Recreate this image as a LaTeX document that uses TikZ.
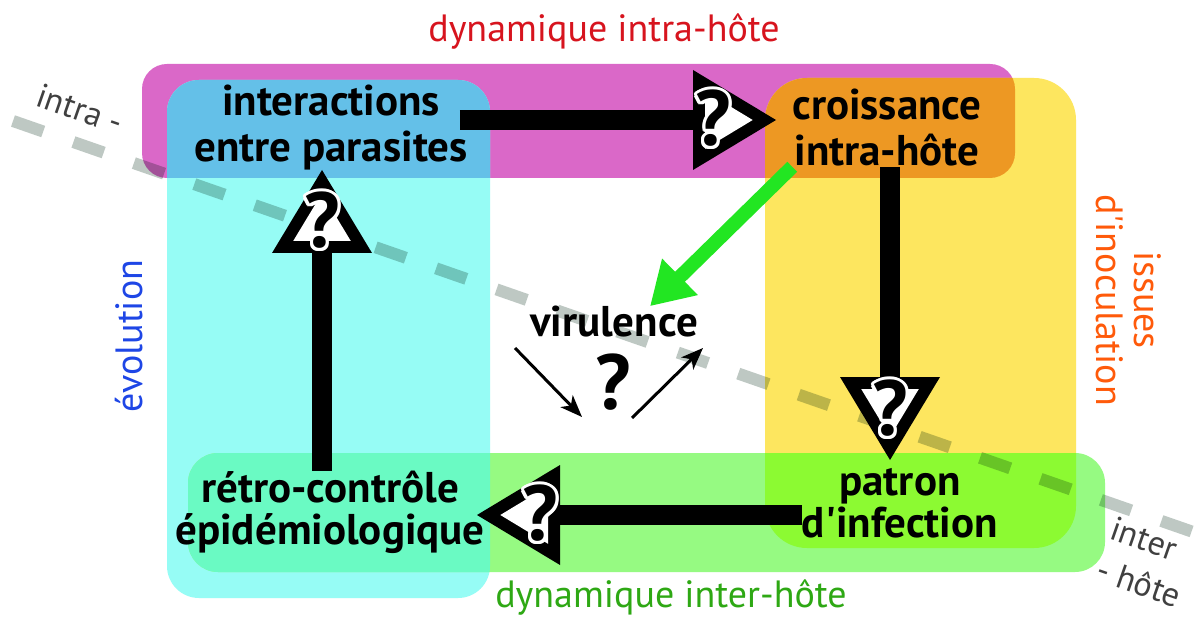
\documentclass[tikz,border=0pt]{standalone}
\usepackage{fontspec}
\setmainfont{PT Sans}
\usepackage{contour}
\usetikzlibrary{arrows.meta}

\definecolor{magband}{HTML}{DA68C8}
\definecolor{yelband}{HTML}{FDE65F}
\definecolor{cyaband}{HTML}{96FCF5}
\definecolor{grnband}{HTML}{96FA82}
\definecolor{bluover}{HTML}{64C0E8}
\definecolor{orover}{HTML}{ED9823}
\definecolor{tealover}{HTML}{6AFAC3}
\definecolor{limover}{HTML}{8CFA32}
\definecolor{dashgray}{HTML}{BEC8C3}
\definecolor{arrgreen}{HTML}{22E622}
\definecolor{intracol}{HTML}{D7141E}
\definecolor{intercol}{HTML}{2EA814}
\definecolor{evocol}{HTML}{1E46E6}
\definecolor{inoccol}{HTML}{FF5A0A}
\definecolor{sidegray}{HTML}{404040}

\contourlength{3pt}

% black arrow head with a white inside, pointing along +x
\tikzset{
  qhead/.pic={
    \fill[black] (0,-50) -- (83,0) -- (0,50) -- cycle;
    \fill[white] (12,-28.8) -- (59.7,0) -- (12,28.8) -- cycle;
  }
}

\begin{document}
\begin{tikzpicture}[x=1pt,y=-1pt,
  box/.style={font=\fontsize{43}{46}\selectfont\bfseries, align=center, inner sep=0pt},
  lowbox/.style={box, font=\fontsize{43}{42}\selectfont\bfseries},
  region/.style={font=\fontsize{38}{38}\selectfont, align=center, inner sep=0pt},
  side/.style={font=\fontsize{34}{43}\selectfont, text=sidegray, rotate=-19.2, inner sep=0pt},
  shaft/.style={line width=20pt},
  qmark/.style={font=\fontsize{78}{78}\selectfont\bfseries, inner sep=0pt},
  sep/.style={dashgray, line width=12pt, dash pattern=on 32pt off 32pt},
  grn/.style={arrgreen, line width=14pt, -{Triangle[length=42pt,width=48pt]}},
  thin/.style={line width=3pt, -{Stealth[length=22pt,width=17pt,inset=6pt]}}
]
\useasboundingbox (0,0) rectangle (1201,617);
\fill[white] (0,0) rectangle (1201,617);

% the four bands
\fill[magband, rounded corners=25pt] (142,64) rectangle (1015,178);
\fill[yelband, rounded corners=42pt] (765,78) rectangle (1076,548);
\fill[cyaband, rounded corners=32pt] (167,80) rectangle (490,598);
\fill[grnband, rounded corners=30pt] (188,453) rectangle (1105,572);

% where two bands meet
\begin{scope}
  \clip[rounded corners=25pt] (142,64) rectangle (1015,178);
  \fill[bluover, rounded corners=32pt] (167,80) rectangle (490,598);
  \fill[orover, rounded corners=42pt] (765,78) rectangle (1076,548);
\end{scope}
\begin{scope}
  \clip[rounded corners=30pt] (188,453) rectangle (1105,572);
  \fill[tealover, rounded corners=32pt] (167,80) rectangle (490,598);
  \fill[limover, rounded corners=42pt] (765,78) rectangle (1076,548);
\end{scope}

% intra / inter separation
\coordinate (d1) at (13,121);
\coordinate (d2) at (1196,533);
\begin{scope}[blend mode=multiply]
  \draw[sep] (d1) -- (d2);
\end{scope}
\node[side] (intra) at (80,109) {intra -};
\node[side, align=left] (interh) at (1146,562) {inter\\- hôte};

% boxes
\node[box] (inter) at (331,128) {interactions\\entre parasites};
\node[box] (croiss) at (887,128) {croissance\\intra-hôte};
\node[lowbox] (patron) at (900,503) {patron\\d{\textquotesingle}infection};
\node[lowbox] (retro) at (330,512) {rétro-contrôle\\épidémiologique};
\node[box] (vir) at (614,322) {virulence};
\node[qmark] (vq) at (613,382) {?};

% region names
\node[region, text=intracol] (dintra) at (604,31) {dynamique intra-hôte};
\node[region, text=intercol] (dinter) at (671,597) {dynamique inter-hôte};
\node[region, text=evocol, rotate=90] (evo) at (129,336) {évolution};
\node[region, text=inoccol, rotate=-90] (inoc) at (1129,300) {issues\\d{\textquotesingle}inoculation};

% the cycle
\coordinate (h1) at (693,120);
\coordinate (h2) at (890,377);
\coordinate (h3) at (560,515);
\coordinate (h4) at (322,253);
\draw[shaft] ([xshift=-8pt,yshift=8pt]inter.east) -- (h1);
\draw[shaft] (croiss.south -| h2) -- (h2);
\draw[shaft] (patron.west |- h3) -- (h3);
\draw[shaft] (retro.north -| h4) -- (h4);
\pic at (h1) {qhead};
\pic[rotate=-90] at (h2) {qhead};
\pic[rotate=180] at (h3) {qhead};
\pic[rotate=90] at (h4) {qhead};
\node[qmark] (q1) at ([xshift=20pt]h1) {\contour{white}{?}};
\node[qmark] (q2) at ([yshift=-33pt]h2) {\contour{white}{?}};
\node[qmark] (q3) at ([xshift=-20pt]h3) {\contour{white}{?}};
\node[qmark] (q4) at ([yshift=31pt]h4) {\contour{white}{?}};

% virulence
\draw[grn] (croiss.south west) -- ([xshift=36pt]vir.north);
\coordinate (a1) at (515,348);
\coordinate (a2) at (582,417);
\coordinate (b1) at (632,418);
\coordinate (b2) at (703,348);
\draw[thin] (a1) -- (a2);
\draw[thin] (b1) -- (b2);
\end{tikzpicture}
\end{document}
